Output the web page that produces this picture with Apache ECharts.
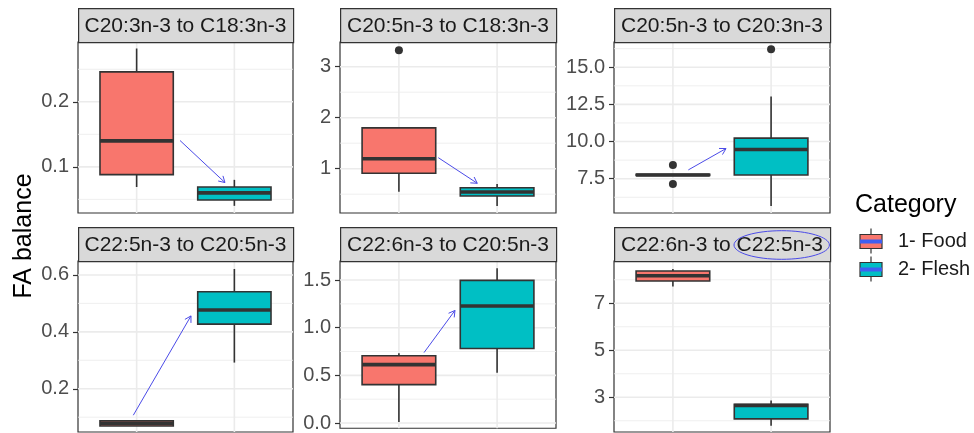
<!DOCTYPE html>
<html><head><meta charset="utf-8">
<script src="https://cdn.jsdelivr.net/npm/echarts@6/dist/echarts.min.js"></script>
<style>html,body{margin:0;padding:0;background:#fff}#chart{width:974px;height:433px}</style>
</head><body><div id="chart"></div>
<script>
// ---------------- data ----------------
const categories = ['1- Food', '2- Flesh'];
const panelTitles = ['C20:3n-3 to C18:3n-3', 'C20:5n-3 to C18:3n-3', 'C20:5n-3 to C20:3n-3',
                     'C22:5n-3 to C20:5n-3', 'C22:6n-3 to C20:5n-3', 'C22:6n-3 to C22:5n-3'];
// [lower whisker, Q1, median, Q3, upper whisker]
const foodStats = [
  [0.069, 0.088, 0.140, 0.246, 0.282],
  [0.55, 0.91, 1.196, 1.80, 1.80],
  [7.72, 7.72, 7.75, 7.79, 7.79],
  [0.069, 0.069, 0.078, 0.087, 0.087],
  [0.01, 0.403, 0.613, 0.706, 0.733],
  [7.71, 7.95, 8.17, 8.374, 8.46]
];
const fleshStats = [
  [0.040, 0.049, 0.060, 0.069, 0.080],
  [0.27, 0.465, 0.543, 0.627, 0.70],
  [5.66, 7.75, 9.46, 10.23, 13.03],
  [0.292, 0.427, 0.477, 0.541, 0.621],
  [0.527, 0.782, 1.227, 1.497, 1.623],
  [1.79, 2.08, 2.65, 2.70, 2.86]
];
const foodOutliers = [[], [3.32], [8.42, 7.14], [], [], []];
const fleshOutliers = [[], [], [16.21], [], [], []];
const yMin = [0.029, 0.131, 5.19, 0.048, -0.055, 1.52];
const yMax = [0.292, 3.484, 16.70, 0.649, 1.70, 8.80];
const yBreaks = [[0.1, 0.2], [1, 2, 3], [7.5, 10, 12.5, 15], [0.2, 0.4, 0.6], [0, 0.5, 1, 1.5], [3, 5, 7]];
const yBreakLabels = [['0.1', '0.2'], ['1', '2', '3'], ['7.5', '10.0', '12.5', '15.0'],
                      ['0.2', '0.4', '0.6'], ['0.0', '0.5', '1.0', '1.5'], ['3', '5', '7']];
const yMinorBreaks = [[0.05, 0.15, 0.25], [0.5, 1.5, 2.5], [6.25, 8.75, 11.25, 13.75, 16.25],
                      [0.1, 0.3, 0.5], [0.25, 0.75, 1.25], [2, 4, 6, 8]];
// annotation arrows in data units: [x from, y from, x to, y to]
const arrows = [[1.444, 0.1405, 1.904, 0.0758], [1.401, 1.216, 1.798, 0.714], [1.157, 8.09, 1.541, 9.53],
                [0.966, 0.107, 1.556, 0.456], [1.256, 0.739, 1.571, 1.181], null];

// ---------------- layout & style ----------------
const FONT = 'Liberation Sans, Arial, sans-serif';
const colors = ['#F8766D', '#00BFC4'];
const colLeft = [78, 340, 614];
const colWidth = [215, 216, 216];
const rowTop = [42, 261];
const panelH = 171;
const stripH = 34;
const DARK = '#333333';
const ARROW = '#4B4BE8';
const xPos = [1, 2];
const halfBox = 0.375;

const chart = echarts.init(document.getElementById('chart'), null, { renderer: 'canvas' });

const grids = [], xAxes = [], yAxes = [], series = [], graphics = [];

function renderGridLines(p) {
  return function (params, api) {
    const cs = params.coordSys;
    const v = api.value(0), kind = api.value(1);
    let shape, w;
    if (kind === 2) {
      const x = api.coord([v, yMin[p]])[0];
      shape = { x1: x, y1: cs.y, x2: x, y2: cs.y + cs.height }; w = 1.6;
    } else {
      const y = api.coord([1, v])[1];
      shape = { x1: cs.x, y1: y, x2: cs.x + cs.width, y2: y }; w = kind === 0 ? 1.6 : 0.8;
    }
    return { type: 'line', shape, style: { stroke: '#EBEBEB', lineWidth: w } };
  };
}

function renderBox(params, api) {
  const x = api.value(0);
  const lo = api.value(1), q1 = api.value(2), md = api.value(3), q3 = api.value(4), hi = api.value(5);
  const tl = api.coord([x - halfBox, q3]);
  const br = api.coord([x + halfBox, q1]);
  const m = api.coord([x, md]);
  const pLo = api.coord([x, lo]), pHi = api.coord([x, hi]);
  const fill = api.visual('color');
  return {
    type: 'group',
    children: [
      { type: 'line', shape: { x1: pHi[0], y1: pHi[1], x2: pHi[0], y2: tl[1] }, style: { stroke: DARK, lineWidth: 1.6 } },
      { type: 'line', shape: { x1: pLo[0], y1: br[1], x2: pLo[0], y2: pLo[1] }, style: { stroke: DARK, lineWidth: 1.6 } },
      { type: 'rect', shape: { x: tl[0], y: tl[1], width: br[0] - tl[0], height: Math.max(br[1] - tl[1], 0.5) },
        style: { fill: fill, stroke: DARK, lineWidth: 1.6 } },
      { type: 'line', shape: { x1: tl[0], y1: m[1], x2: br[0], y2: m[1] }, style: { stroke: DARK, lineWidth: 3.6 } }
    ]
  };
}

function renderArrow(params, api) {
  const a = api.coord([api.value(0), api.value(1)]);
  const b = api.coord([api.value(2), api.value(3)]);
  const ang = Math.atan2(b[1] - a[1], b[0] - a[0]);
  const L = 7, spread = Math.PI / 6;
  const h1 = [b[0] - L * Math.cos(ang - spread), b[1] - L * Math.sin(ang - spread)];
  const h2 = [b[0] - L * Math.cos(ang + spread), b[1] - L * Math.sin(ang + spread)];
  const st = { stroke: ARROW, lineWidth: 1, fill: null };
  return {
    type: 'group',
    children: [
      { type: 'line', shape: { x1: a[0], y1: a[1], x2: b[0], y2: b[1] }, style: st },
      { type: 'polyline', shape: { points: [h1, b, h2] }, style: st }
    ]
  };
}

for (let p = 0; p < 6; p++) {
  const r = Math.floor(p / 3), c = p % 3;
  const left = colLeft[c], top = rowTop[r], width = colWidth[c];
  grids.push({ left, top, width, height: panelH, show: true, borderColor: DARK, borderWidth: 1.2,
               backgroundColor: 'transparent', containLabel: false });
  xAxes.push({ type: 'value', gridIndex: p, min: 0.4, max: 2.6,
               axisLine: { show: false }, axisTick: { show: false }, axisLabel: { show: false }, splitLine: { show: false } });
  yAxes.push({
    type: 'value', gridIndex: p, min: yMin[p], max: yMax[p],
    axisLine: { show: false },
    splitLine: { show: false },
    axisTick: { show: true, length: 5, customValues: yBreaks[p], lineStyle: { color: DARK, width: 1.2 } },
    axisLabel: {
      customValues: yBreaks[p], color: '#4D4D4D', fontSize: 20, fontFamily: FONT, margin: 9,
      formatter: (v) => {
        const i = yBreaks[p].findIndex(b => Math.abs(b - v) < 1e-9);
        return i >= 0 ? yBreakLabels[p][i] : '';
      }
    }
  });

  const gridData = [];
  yBreaks[p].forEach(v => gridData.push([v, 0]));
  yMinorBreaks[p].forEach(v => gridData.push([v, 1]));
  xPos.forEach(v => gridData.push([v, 2]));
  series.push({ type: 'custom', name: 'grid' + p, xAxisIndex: p, yAxisIndex: p, z: 1, silent: true,
                renderItem: renderGridLines(p), data: gridData, clip: false });

  series.push({
    type: 'custom', name: 'box' + p, xAxisIndex: p, yAxisIndex: p, z: 3, renderItem: renderBox,
    encode: { x: 0, y: [1, 2, 3, 4, 5] },
    data: [
      { value: [xPos[0]].concat(foodStats[p]), itemStyle: { color: colors[0] } },
      { value: [xPos[1]].concat(fleshStats[p]), itemStyle: { color: colors[1] } }
    ]
  });

  const outs = foodOutliers[p].map(v => [xPos[0], v]).concat(fleshOutliers[p].map(v => [xPos[1], v]));
  if (outs.length) {
    series.push({ type: 'scatter', name: 'out' + p, xAxisIndex: p, yAxisIndex: p, z: 4, symbolSize: 8,
                  itemStyle: { color: DARK, opacity: 1 }, data: outs });
  }
  if (arrows[p]) {
    series.push({ type: 'custom', name: 'arrow' + p, xAxisIndex: p, yAxisIndex: p, z: 5, silent: true,
                  renderItem: renderArrow, encode: { x: [0, 2], y: [1, 3] }, data: [arrows[p]], clip: false });
  }

  // facet strip
  graphics.push({ type: 'rect', left: left, top: top - stripH, z: 10,
                  shape: { width: width, height: stripH },
                  style: { fill: '#D9D9D9', stroke: DARK, lineWidth: 1.2 } });
  graphics.push({ type: 'text', x: left + width / 2, y: top - stripH / 2 + 1, z: 11,
                  style: { text: panelTitles[p], fill: '#1A1A1A', font: '21px ' + FONT, align: 'center', verticalAlign: 'middle' } });
}

// highlight ellipse around "C22:5n-3"
graphics.push({ type: 'ellipse', z: 12, shape: { cx: 781.7, cy: 245, rx: 47.7, ry: 14.3 },
                style: { fill: null, stroke: ARROW, lineWidth: 1 } });

// y axis title
graphics.push({ type: 'text', x: 24, y: 236, rotation: Math.PI / 2, z: 11,
                style: { text: 'FA balance', fill: '#000', font: '25px ' + FONT, align: 'center', verticalAlign: 'middle' } });

// legend
graphics.push({ type: 'text', x: 855, y: 205, z: 11,
                style: { text: 'Category', fill: '#000', font: '25px ' + FONT, align: 'left', verticalAlign: 'middle' } });
categories.forEach((name, i) => {
  const cy = 241.5 + i * 28;
  graphics.push({ type: 'line', z: 11, shape: { x1: 871, y1: cy - 13, x2: 871, y2: cy + 12 }, style: { stroke: DARK, lineWidth: 1.2 } });
  graphics.push({ type: 'rect', z: 12, shape: { x: 860, y: cy - 7, width: 22, height: 14 },
                  style: { fill: colors[i], stroke: DARK, lineWidth: 1.2 } });
  graphics.push({ type: 'line', z: 13, shape: { x1: 860, y1: cy, x2: 882, y2: cy }, style: { stroke: '#3F5FF0', lineWidth: 4 } });
  graphics.push({ type: 'text', x: 898, y: cy, z: 11,
                  style: { text: name, fill: '#1A1A1A', font: '20px ' + FONT, align: 'left', verticalAlign: 'middle' } });
});

chart.setOption({
  backgroundColor: '#ffffff',
  animation: false,
  grid: grids, xAxis: xAxes, yAxis: yAxes, series: series, graphic: graphics
});
</script></body></html>
